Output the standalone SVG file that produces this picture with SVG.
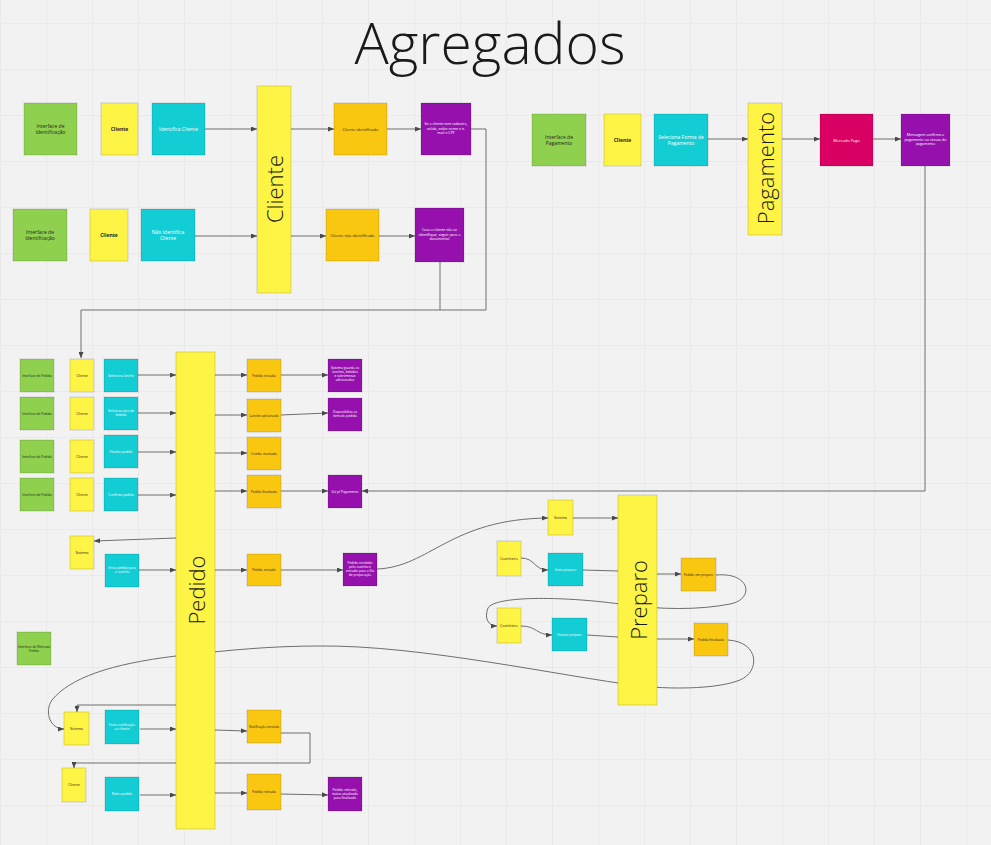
<svg xmlns="http://www.w3.org/2000/svg" width="991" height="845" viewBox="0 0 991 845">
<defs>
<pattern id="grid" patternUnits="userSpaceOnUse" x="0" y="23" width="46" height="46">
<path d="M0,0 H46 M0,0 V46" fill="none" stroke="#e2e2e2" stroke-width="1"/>
</pattern>
<marker id="ah" markerUnits="userSpaceOnUse" markerWidth="6" markerHeight="5" refX="6" refY="2.5" orient="auto">
<path d="M0,0 L6,2.5 L0,5 z" fill="#4a4a4a"/>
</marker>
<style>
.n{stroke:rgba(0,0,0,0.14);stroke-width:1}
.g{fill:#8fd14f}.y{fill:#fef445}.c{fill:#12cdd4}.o{fill:#fac710}.p{fill:#9510ac}.m{fill:#da0063}
text{font-family:"Open Sans","Noto Sans","Liberation Sans",sans-serif;text-anchor:middle}
.dk{fill:#1e1e1e}.wt{fill:#ffffff}
.b{font-weight:700}
.s5{font-size:5px}.s4{font-size:4px}.s35{font-size:3.6px}.s3{font-size:3.3px}
.big{font-size:22px;font-weight:300;fill:#1a1a1a;dominant-baseline:central}
.cn{fill:none;stroke:#6e6e6e;stroke-width:1}
.cl{fill:none;stroke:#9a9a9a;stroke-width:1.5}
</style>
</defs>
<rect width="991" height="845" fill="#f2f2f2"/>
<rect width="991" height="845" fill="url(#grid)"/>
<text x="490" y="64" font-size="57" font-weight="300" fill="#1a1a1a">Agregados</text>

<g id="connectors">
<path class="cn" d="M205,129 H257" marker-end="url(#ah)"/>
<path class="cn" d="M291,129 H334" marker-end="url(#ah)"/>
<path class="cn" d="M387,129 H421" marker-end="url(#ah)"/>
<path class="cn" d="M471,129 H486 V310 H81 V358" marker-end="url(#ah)"/>
<path class="cn" d="M195,236 H257" marker-end="url(#ah)"/>
<path class="cn" d="M291,236 H326" marker-end="url(#ah)"/>
<path class="cn" d="M379,236 H415" marker-end="url(#ah)"/>
<path class="cn" d="M440,262 V310"/>
<path class="cl" d="M708,139 H748" marker-end="url(#ah)"/>
<path class="cl" d="M782,139 H820" marker-end="url(#ah)"/>
<path class="cl" d="M873,139 H901" marker-end="url(#ah)"/>
<path class="cn" d="M925,166 V491 H362" marker-end="url(#ah)"/>
<path class="cn" d="M138,375 H176" marker-end="url(#ah)"/>
<path class="cn" d="M215,375 H247" marker-end="url(#ah)"/>
<path class="cn" d="M281,375 H328" marker-end="url(#ah)"/>
<path class="cn" d="M138,413 H176" marker-end="url(#ah)"/>
<path class="cn" d="M215,415 H247" marker-end="url(#ah)"/>
<path class="cn" d="M281,415 L328,413" marker-end="url(#ah)"/>
<path class="cn" d="M138,452 H176" marker-end="url(#ah)"/>
<path class="cn" d="M215,453 H247" marker-end="url(#ah)"/>
<path class="cn" d="M138,495 H176" marker-end="url(#ah)"/>
<path class="cn" d="M215,491 H247" marker-end="url(#ah)"/>
<path class="cn" d="M281,491 H328" marker-end="url(#ah)"/>
<path class="cn" d="M176,538 L94,541" marker-end="url(#ah)"/>
<path class="cn" d="M139,570 H176" marker-end="url(#ah)"/>
<path class="cn" d="M215,570 H247" marker-end="url(#ah)"/>
<path class="cn" d="M281,570 H343" marker-end="url(#ah)"/>
<path class="cn" d="M377,569 C430,567 450,519 548,518" marker-end="url(#ah)"/>
<path class="cn" d="M573,518 H618" marker-end="url(#ah)"/>
<path class="cn" d="M521,558 C535,558 534,570 548,570" marker-end="url(#ah)"/>
<path class="cn" d="M583,570 L618,571"/>
<path class="cn" d="M657,574 H681" marker-end="url(#ah)"/>
<path class="cn" d="M716,575 C752,572 754,600 730,604 C700,610 660,610 620,604 C560,596 495,596 488,608 C484,618 488,626 497,626" marker-end="url(#ah)"/>
<path class="cn" d="M521,626 C537,626 536,635 552,635" marker-end="url(#ah)"/>
<path class="cn" d="M587,635 L618,637"/>
<path class="cn" d="M657,639 H694" marker-end="url(#ah)"/>
<path class="cn" d="M728,640 C760,642 760,672 740,680 C720,688 680,690 640,686 C560,676 420,645 320,646 C270,646 230,650 176,656 C110,664 70,678 52,700 C44,712 50,729 64,729" marker-end="url(#ah)"/>
<path class="cn" d="M176,705 H77 V712" marker-end="url(#ah)"/>
<path class="cn" d="M140,729 H176" marker-end="url(#ah)"/>
<path class="cn" d="M215,730 L247,731" marker-end="url(#ah)"/>
<path class="cn" d="M281,733 H310 V763 H74 V768" marker-end="url(#ah)"/>
<path class="cn" d="M140,795 H176" marker-end="url(#ah)"/>
<path class="cn" d="M215,793 H247" marker-end="url(#ah)"/>
<path class="cn" d="M281,794 L328,795" marker-end="url(#ah)"/>
</g>

<!-- Cliente -->
<g id="n-ui-ident-1"><rect class="n g" x="24" y="103" width="53" height="52"/><text class="dk s5" x="50.5" y="128">Interface de<tspan x="50.5" dy="6">Identificação</tspan></text></g>
<g id="n-cliente-1"><rect class="n y" x="101" y="103" width="37" height="52"/><text class="dk s5 b" x="119.5" y="131">Cliente</text></g>
<g id="n-identifica"><rect class="n c" x="152" y="103" width="53" height="52"/><text class="wt s5" x="178.5" y="131">Identifica Cliente</text></g>
<g id="n-ui-ident-2"><rect class="n g" x="13" y="209" width="54" height="52"/><text class="dk s5" x="40" y="234">Interface de<tspan x="40" dy="6">Identificação</tspan></text></g>
<g id="n-cliente-2"><rect class="n y" x="90" y="209" width="38" height="52"/><text class="dk s5 b" x="109" y="237">Cliente</text></g>
<g id="n-nao-identifica"><rect class="n c" x="141" y="209" width="54" height="52"/><text class="wt s5" x="168" y="234">Não Identifica<tspan x="168" dy="6">Cliente</tspan></text></g>
<g id="n-agg-cliente"><rect class="n y" x="257" y="86" width="34" height="207"/><text class="big" transform="translate(274,189) rotate(-90)">Cliente</text></g>
<g id="n-cli-identificado"><rect class="n o" x="334" y="103" width="53" height="52"/><text class="dk s4" x="360.5" y="130.5">Cliente identificado</text></g>
<g id="n-msg-cadastro"><rect class="n p" x="421" y="103" width="50" height="52"/><text class="wt s35" x="446" y="125">Se o cliente tem cadastro,<tspan x="446" dy="4.5">valida, exibe nome e e-</tspan><tspan x="446" dy="4.5">mail e CPF</tspan></text></g>
<g id="n-cli-nao-identificado"><rect class="n o" x="326" y="209" width="53" height="52"/><text class="dk s4" x="352.5" y="236.5">Cliente não identificado</text></g>
<g id="n-msg-nao-ident"><rect class="n p" x="415" y="208" width="49" height="54"/><text class="wt s35" x="439.5" y="231">Caso o cliente não se<tspan x="439.5" dy="4.5">identifique, seguir para o</tspan><tspan x="439.5" dy="4.5">documental</tspan></text></g>

<!-- Pagamento -->
<g id="n-ui-pag"><rect class="n g" x="532" y="114" width="54" height="52"/><text class="dk s5" x="559" y="139">Interface de<tspan x="559" dy="6">Pagamento</tspan></text></g>
<g id="n-cliente-pag"><rect class="n y" x="604" y="114" width="37" height="52"/><text class="dk s5 b" x="622.5" y="142">Cliente</text></g>
<g id="n-seleciona-pag"><rect class="n c" x="654" y="114" width="54" height="52"/><text class="wt s5" x="681" y="139">Seleciona Forma de<tspan x="681" dy="6">Pagamento</tspan></text></g>
<g id="n-agg-pagamento"><rect class="n y" x="748" y="103" width="34" height="132"/><text class="big" transform="translate(765,168) rotate(-90)">Pagamento</text></g>
<g id="n-mercado-pago"><rect class="n m" x="820" y="114" width="53" height="52"/><text class="wt s4" x="846.5" y="141.5">Mercado Pago</text></g>
<g id="n-msg-pag"><rect class="n p" x="901" y="114" width="49" height="52"/><text class="wt s35" x="925.5" y="136">Mensagem confirma o<tspan x="925.5" dy="4.5">pagamento ou recusa do</tspan><tspan x="925.5" dy="4.5">pagamento</tspan></text></g>

<!-- Pedido -->
<g id="n-ui-ped-1"><rect class="n g" x="20" y="359" width="34" height="33"/><text class="dk s3" x="37" y="376.5">Interface de Pedido</text></g>
<g id="n-ui-ped-2"><rect class="n g" x="20" y="397" width="34" height="33"/><text class="dk s3" x="37" y="414.5">Interface de Pedido</text></g>
<g id="n-ui-ped-3"><rect class="n g" x="20" y="440" width="34" height="33"/><text class="dk s3" x="37" y="457.5">Interface de Pedido</text></g>
<g id="n-ui-ped-4"><rect class="n g" x="20" y="478" width="34" height="33"/><text class="dk s3" x="37" y="495.5">Interface de Pedido</text></g>
<g id="n-cli-ped-1"><rect class="n y" x="70" y="359" width="24" height="33"/><text class="dk s35" x="82" y="376.5">Cliente</text></g>
<g id="n-cli-ped-2"><rect class="n y" x="70" y="397" width="24" height="33"/><text class="dk s35" x="82" y="414.5">Cliente</text></g>
<g id="n-cli-ped-3"><rect class="n y" x="70" y="440" width="24" height="33"/><text class="dk s35" x="82" y="457.5">Cliente</text></g>
<g id="n-cli-ped-4"><rect class="n y" x="70" y="478" width="24" height="33"/><text class="dk s35" x="82" y="495.5">Cliente</text></g>
<g id="n-sel-lanche"><rect class="n c" x="104" y="359" width="34" height="33"/><text class="wt s3" x="121" y="376.5">Seleciona lanche</text></g>
<g id="n-sel-acomp"><rect class="n c" x="104" y="397" width="34" height="33"/><text class="wt s3" x="121" y="412">Seleciona tipo de<tspan x="121" dy="4">bebida</tspan></text></g>
<g id="n-sel-sobremesa"><rect class="n c" x="104" y="435" width="34" height="33"/><text class="wt s3" x="121" y="452.5">Finaliza pedido</text></g>
<g id="n-confirma"><rect class="n c" x="104" y="478" width="34" height="33"/><text class="wt s3" x="121" y="495.5">Confirma pedido</text></g>
<g id="n-agg-pedido"><rect class="n y" x="176" y="352" width="39" height="477"/><text class="big" transform="translate(195.5,590) rotate(-90)">Pedido</text></g>
<g id="n-ev-iniciado"><rect class="n o" x="247" y="359" width="34" height="33"/><text class="dk s3" x="264" y="376.5">Pedido iniciado</text></g>
<g id="n-ev-lanche"><rect class="n o" x="247" y="399" width="34" height="33"/><text class="dk s3" x="264" y="416.5">Lanche adicionado</text></g>
<g id="n-ev-combo"><rect class="n o" x="247" y="437" width="34" height="33"/><text class="dk s3" x="264" y="454.5">Combo montado</text></g>
<g id="n-ev-finalizado"><rect class="n o" x="247" y="475" width="34" height="33"/><text class="dk s3" x="264" y="492.5">Pedido finalizado</text></g>
<g id="n-msg-ped-1"><rect class="n p" x="328" y="359" width="34" height="33"/><text class="wt s3" x="345" y="369">Sistema guarda os<tspan x="345" dy="4">lanches, bebidas</tspan><tspan x="345" dy="4">e sobremesas</tspan><tspan x="345" dy="4">adicionados</tspan></text></g>
<g id="n-msg-ped-2"><rect class="n p" x="328" y="398" width="34" height="33"/><text class="wt s3" x="345" y="412.5">Disponibiliza os<tspan x="345" dy="4">itens do pedido</tspan></text></g>
<g id="n-msg-ped-4"><rect class="n p" x="328" y="475" width="34" height="33"/><text class="wt s3" x="345" y="492.5">Vai p/ Pagamento</text></g>
<g id="n-sistema-1"><rect class="n y" x="70" y="536" width="24" height="33"/><text class="dk s35" x="82" y="553.5">Sistema</text></g>
<g id="n-envia-cozinha"><rect class="n c" x="105" y="554" width="34" height="33"/><text class="wt s3" x="122" y="569">Envia pedido para<tspan x="122" dy="4">a cozinha</tspan></text></g>
<g id="n-ev-enviado"><rect class="n o" x="247" y="554" width="34" height="32"/><text class="dk s3" x="264" y="571">Pedido enviado</text></g>
<g id="n-msg-fila"><rect class="n p" x="343" y="553" width="34" height="33"/><text class="wt s3" x="360" y="563.5">Pedido recebido<tspan x="360" dy="4">pela cozinha e</tspan><tspan x="360" dy="4">enviado para a fila</tspan><tspan x="360" dy="4">de preparação</tspan></text></g>
<g id="n-ui-retirada"><rect class="n g" x="17" y="632" width="34" height="33"/><text class="dk s3" x="34" y="647.5">Interface de Retirada<tspan x="34" dy="4">Pedido</tspan></text></g>
<g id="n-sistema-2"><rect class="n y" x="64" y="712" width="25" height="33"/><text class="dk s35" x="76.5" y="729.5">Sistema</text></g>
<g id="n-notifica"><rect class="n c" x="105" y="710" width="34" height="34"/><text class="wt s3" x="122" y="725.5">Envia notificação<tspan x="122" dy="4">ao cliente</tspan></text></g>
<g id="n-ev-notificado"><rect class="n o" x="247" y="710" width="34" height="33"/><text class="dk s3" x="264" y="727.5">Notificação enviada</text></g>
<g id="n-cliente-ret"><rect class="n y" x="62" y="768" width="24" height="34"/><text class="dk s35" x="74" y="786">Cliente</text></g>
<g id="n-retira"><rect class="n c" x="105" y="777" width="34" height="34"/><text class="wt s3" x="122" y="795">Retira pedido</text></g>
<g id="n-ev-retirado"><rect class="n o" x="247" y="774" width="34" height="36"/><text class="dk s3" x="264" y="793">Pedido retirado</text></g>
<g id="n-msg-retirado"><rect class="n p" x="328" y="777" width="34" height="34"/><text class="wt s3" x="345" y="790.5">Pedido retirado,<tspan x="345" dy="4">status atualizado</tspan><tspan x="345" dy="4">para finalizado</tspan></text></g>

<!-- Preparo -->
<g id="n-sistema-prep"><rect class="n y" x="548" y="500" width="25" height="35"/><text class="dk s35" x="560.5" y="518.5">Sistema</text></g>
<g id="n-cozinheiro-1"><rect class="n y" x="497" y="541" width="24" height="35"/><text class="dk s35" x="509" y="559.5">Cozinheiro</text></g>
<g id="n-inicia-preparo"><rect class="n c" x="548" y="553" width="35" height="33"/><text class="wt s3" x="565.5" y="570.5">Inicia preparo</text></g>
<g id="n-cozinheiro-2"><rect class="n y" x="497" y="608" width="24" height="35"/><text class="dk s35" x="509" y="626.5">Cozinheiro</text></g>
<g id="n-finaliza-preparo"><rect class="n c" x="552" y="618" width="35" height="33"/><text class="wt s3" x="569.5" y="635.5">Finaliza preparo</text></g>
<g id="n-agg-preparo"><rect class="n y" x="618" y="495" width="39" height="210"/><text class="big" transform="translate(637.5,600) rotate(-90)">Preparo</text></g>
<g id="n-ev-em-preparo"><rect class="n o" x="681" y="558" width="35" height="33"/><text class="dk s3" x="698.5" y="575.5">Pedido em preparo</text></g>
<g id="n-ev-pronto"><rect class="n o" x="694" y="623" width="34" height="33"/><text class="dk s3" x="711" y="640.5">Pedido finalizado</text></g>
</svg>
